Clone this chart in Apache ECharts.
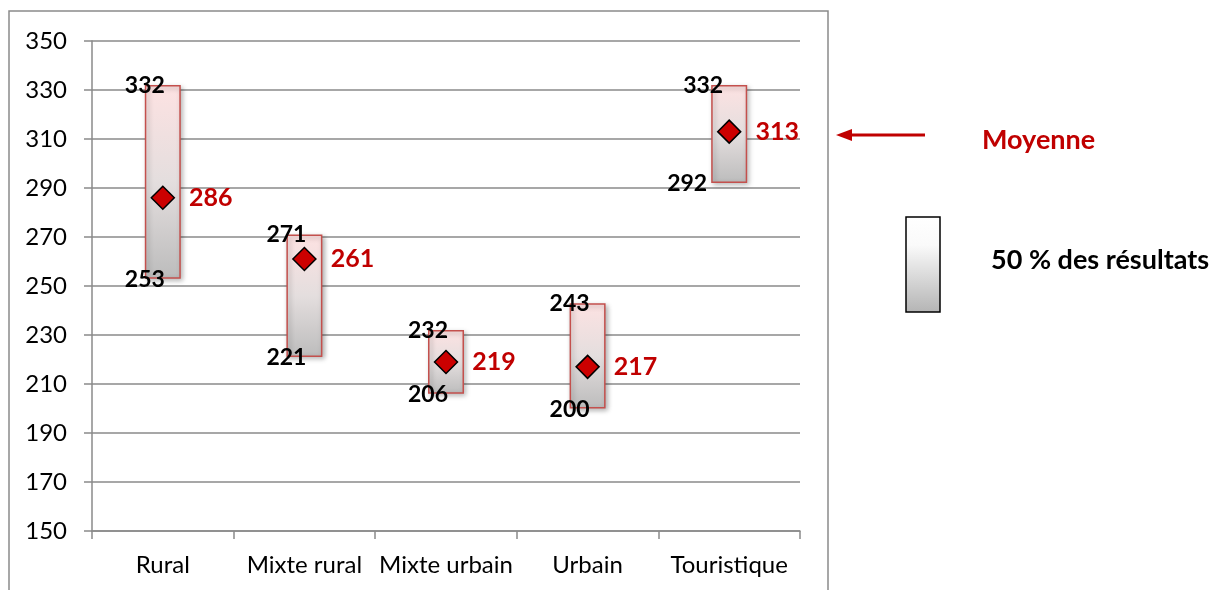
<!DOCTYPE html>
<html>
<head>
<meta charset="utf-8">
<script src="https://cdn.jsdelivr.net/npm/echarts@6/dist/echarts.min.js"></script>
<style>
  html, body { margin: 0; padding: 0; background: #fff; }
  #main { width: 1219px; height: 590px; }
</style>
</head>
<body>
<div id="main"></div>
<script>
var categories = ['Rural', 'Mixte rural', 'Mixte urbain', 'Urbain', 'Touristique'];
var lowValues = [253, 221, 206, 200, 292];
var highValues = [332, 271, 232, 243, 332];
var meanValues = [286, 261, 219, 217, 313];
var yTicks = { min: 150, max: 350, interval: 20 };

var myChart = echarts.init(document.getElementById('main'));

var font = 'Lato, "Open Sans", sans-serif';
var gridColor = '#8a8a8a';

var rangeData = highValues.map(function (h, i) { return h - lowValues[i]; });
var highPoints = highValues.map(function (v, i) { return [i, v]; });
var lowPoints = lowValues.map(function (v, i) { return [i, v]; });
var meanPoints = meanValues.map(function (v, i) { return [i, v]; });

var boxFill = new echarts.graphic.LinearGradient(0, 0, 0, 1, [
    { offset: 0, color: '#fde2e2' },
    { offset: 0.5, color: '#e4dede' },
    { offset: 1, color: '#bcbcbc' }
]);

var option = {
    animation: false,
    textStyle: { fontFamily: font },
    grid: { left: 92, right: 419, top: 41, bottom: 59 },
    xAxis: {
        type: 'category',
        data: categories,
        boundaryGap: true,
        axisLine: { lineStyle: { color: gridColor, width: 1.5 } },
        axisTick: { show: true, length: 8, lineStyle: { color: gridColor, width: 1.5 } },
        axisLabel: { color: '#000', fontSize: 24, fontFamily: font, margin: 22, interval: 0 },
        splitLine: { show: false }
    },
    yAxis: {
        type: 'value',
        min: yTicks.min,
        max: yTicks.max,
        interval: yTicks.interval,
        axisLine: { show: true, lineStyle: { color: gridColor, width: 1.5 } },
        axisTick: { show: true, length: 8, lineStyle: { color: gridColor, width: 1.5 } },
        axisLabel: { color: '#000', fontSize: 24, fontFamily: font, margin: 25 },
        splitLine: { lineStyle: { color: gridColor, width: 1.5 } }
    },
    series: [
        {
            name: 'base',
            type: 'bar',
            stack: 'box',
            barWidth: 36,
            silent: true,
            itemStyle: { color: 'transparent' },
            data: lowValues
        },
        {
            name: 'range',
            type: 'bar',
            stack: 'box',
            barWidth: 36,
            itemStyle: {
                color: boxFill,
                borderColor: '#c4504d',
                borderWidth: 1.5,
                shadowColor: 'rgba(0,0,0,0.3)',
                shadowBlur: 5,
                shadowOffsetX: 2,
                shadowOffsetY: 2
            },
            data: rangeData
        },
        {
            name: 'high',
            type: 'scatter',
            symbolSize: 1,
            itemStyle: { color: 'transparent', opacity: 1 },
            z: 5,
            label: {
                show: true,
                position: 'inside',
                offset: [-18, 0],
                color: '#000',
                fontWeight: 'bold',
                fontSize: 23,
                fontFamily: font,
                formatter: function (p) { return p.value[1]; }
            },
            data: highPoints.map(function (p, i) {
                return i === 4 ? { value: p, label: { offset: [-26, 0] } } : p;
            })
        },
        {
            name: 'low',
            type: 'scatter',
            symbolSize: 1,
            itemStyle: { color: 'transparent', opacity: 1 },
            z: 5,
            label: {
                show: true,
                position: 'inside',
                offset: [-18, 1],
                color: '#000',
                fontWeight: 'bold',
                fontSize: 23,
                fontFamily: font,
                formatter: function (p) { return p.value[1]; }
            },
            data: lowPoints.map(function (p, i) {
                return i === 4 ? { value: p, label: { offset: [-42, 0] } } : p;
            })
        },
        {
            name: 'Moyenne',
            type: 'scatter',
            symbol: 'diamond',
            symbolSize: [23, 23],
            z: 6,
            itemStyle: { color: '#cc0000', borderColor: '#000', borderWidth: 1.5, opacity: 1 },
            label: {
                show: true,
                position: 'right',
                distance: 14,
                color: '#c00000',
                fontWeight: 'bold',
                fontSize: 25,
                fontFamily: font,
                formatter: function (p) { return p.value[1]; }
            },
            data: meanPoints
        }
    ],
    graphic: [
        {
            type: 'rect',
            silent: true,
            shape: { x: 9, y: 11, width: 819, height: 600 },
            style: { fill: 'none', stroke: '#8a8a8a', lineWidth: 1.5 }
        },
        {
            type: 'line',
            silent: true,
            shape: { x1: 848, y1: 135, x2: 925, y2: 135 },
            style: { stroke: '#c00000', lineWidth: 3 }
        },
        {
            type: 'polygon',
            silent: true,
            shape: { points: [[836, 135], [852, 129], [852, 141]] },
            style: { fill: '#c00000' }
        },
        {
            type: 'text',
            silent: true,
            x: 982, y: 140,
            style: {
                text: 'Moyenne', fill: '#c00000', fontSize: 27, fontWeight: 'bold',
                fontFamily: font, verticalAlign: 'middle'
            }
        },
        {
            type: 'rect',
            silent: true,
            shape: { x: 906, y: 217, width: 34, height: 95 },
            style: {
                fill: new echarts.graphic.LinearGradient(0, 0, 0, 1, [
                    { offset: 0, color: '#ffffff' },
                    { offset: 0.3, color: '#fafafa' },
                    { offset: 1, color: '#b4b4b4' }
                ]),
                stroke: '#000', lineWidth: 1.5
            }
        },
        {
            type: 'text',
            silent: true,
            x: 991, y: 260,
            style: {
                text: '50 % des résultats', fill: '#000', fontSize: 27, fontWeight: 'bold',
                fontFamily: font, verticalAlign: 'middle'
            }
        }
    ]
};

myChart.setOption(option);
</script>
</body>
</html>
